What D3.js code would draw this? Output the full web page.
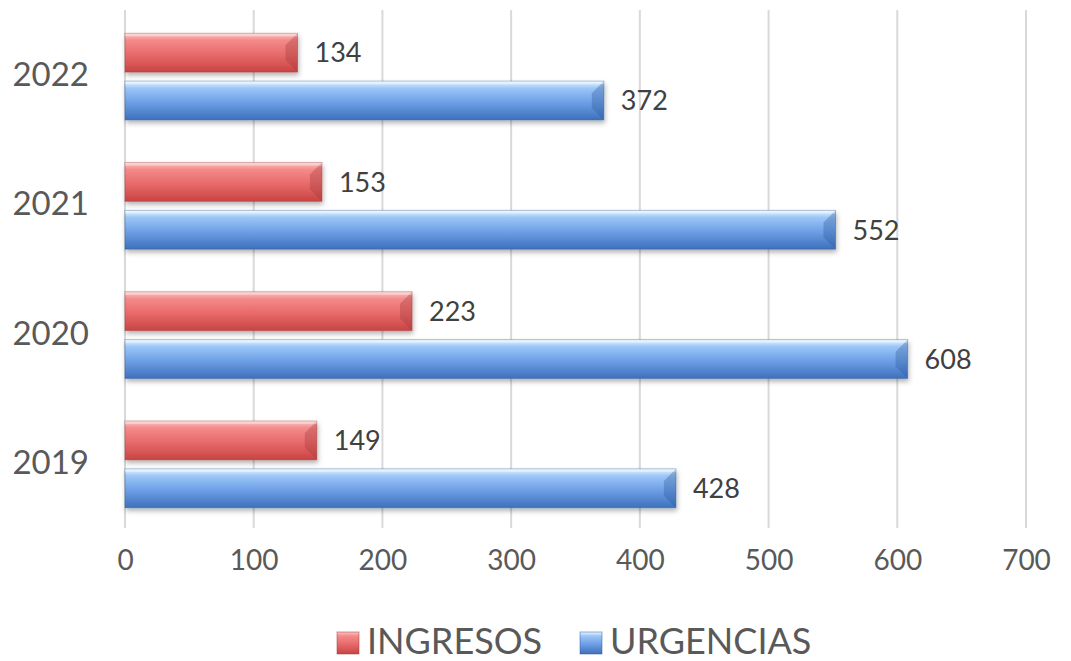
<!DOCTYPE html>
<html>
<head>
<meta charset="utf-8">
<script src="https://cdn.jsdelivr.net/npm/d3@7"></script>
<style>
  body { margin: 0; background: #fff; }
  svg { display: block; font-family: Lato, "Open Sans", sans-serif; }
</style>
</head>
<body>
<svg id="chart" width="1071" height="661"></svg>
<script>
// chart data
const years = ['2019', '2020', '2021', '2022'];
const seriesNames = ['INGRESOS', 'URGENCIAS'];
const ingresos = [149, 223, 153, 134];
const urgencias = [428, 608, 552, 372];
const xTicks = [0, 100, 200, 300, 400, 500, 600, 700];

const width = 1071, height = 661;
const margin = { top: 12, right: 45, bottom: 132, left: 125 };

const svg = d3.select('#chart');
const defs = svg.append('defs');

// bevel-ish gradients
const palettes = {
  INGRESOS: { stops: ['#fbc4c4', '#f48a8a', '#e86a6a', '#c84444'], dark: '#a33a3a' },
  URGENCIAS: { stops: ['#e6f8ff', '#9cc6f7', '#6d9fe6', '#3e70bc'], dark: '#2f5a9c' }
};
Object.entries(palettes).forEach(([name, p]) => {
  const g = defs.append('linearGradient')
    .attr('id', 'grad-' + name)
    .attr('x1', 0).attr('y1', 0).attr('x2', 0).attr('y2', 1);
  [0, 0.18, 0.55, 1].forEach((o, i) => {
    g.append('stop').attr('offset', o).attr('stop-color', p.stops[i]);
  });
});
const shadow = defs.append('filter').attr('id', 'shadow')
  .attr('x', '-5%').attr('y', '-20%').attr('width', '110%').attr('height', '160%');
shadow.append('feDropShadow')
  .attr('dx', 1).attr('dy', 3).attr('stdDeviation', 2.5)
  .attr('flood-color', '#000').attr('flood-opacity', 0.3);

const x = d3.scaleLinear()
  .domain([0, 700])
  .range([margin.left, width - margin.right]);

const y = d3.scaleBand()
  .domain(years.slice().reverse())
  .range([margin.top, height - margin.bottom])
  .paddingInner(0.33)
  .paddingOuter(0.165);

const y1 = d3.scaleBand()
  .domain(seriesNames)
  .range([0, y.bandwidth()])
  .paddingInner(0.19);

// grid lines
svg.append('g')
  .selectAll('line')
  .data(xTicks)
  .join('line')
  .attr('x1', d => x(d)).attr('x2', d => x(d))
  .attr('y1', 10).attr('y2', 528)
  .attr('stroke', '#d9d9d9')
  .attr('stroke-width', 2);

// x axis tick labels
const xAxis = d3.axisBottom(x).tickValues(xTicks).tickSize(0).tickPadding(0);
const gx = svg.append('g')
  .attr('transform', `translate(0, 550)`)
  .call(xAxis);
gx.select('.domain').remove();
gx.selectAll('text')
  .attr('font-size', 28)
  .attr('fill', '#595959')
  .attr('font-family', 'Lato, sans-serif');

// y axis labels
const yAxis = d3.axisLeft(y).tickSize(0).tickPadding(0);
const gy = svg.append('g')
  .attr('transform', `translate(89, -1)`)
  .call(yAxis);
gy.select('.domain').remove();
gy.selectAll('text')
  .attr('font-size', 33)
  .attr('fill', '#595959')
  .attr('font-family', 'Lato, sans-serif');

// bars
const rows = years.map((yr, i) => ({
  year: yr,
  values: [
    { key: 'INGRESOS', value: ingresos[i] },
    { key: 'URGENCIAS', value: urgencias[i] }
  ]
}));

const groups = svg.append('g')
  .selectAll('g')
  .data(rows)
  .join('g')
  .attr('transform', d => `translate(0, ${y(d.year)})`);

const bar = groups.selectAll('g.bar')
  .data(d => d.values)
  .join('g')
  .attr('class', 'bar');

bar.append('rect')
  .attr('x', x(0))
  .attr('y', d => y1(d.key))
  .attr('width', d => x(d.value) - x(0))
  .attr('height', y1.bandwidth())
  .attr('fill', d => `url(#grad-${d.key})`)
  .attr('stroke', d => palettes[d.key].dark)
  .attr('stroke-opacity', 0.45)
  .attr('filter', 'url(#shadow)');

// bevel corners at the right end
const bevel = 12;
bar.append('path')
  .attr('d', d => {
    const x1 = x(d.value), yt = y1(d.key), yb = yt + y1.bandwidth();
    return `M${x1},${yt} L${x1 - bevel},${yt + bevel} L${x1 - bevel},${yb - bevel} L${x1},${yb} Z`;
  })
  .attr('fill', d => palettes[d.key].dark)
  .attr('opacity', 0.35);
bar.append('rect')
  .attr('x', x(0))
  .attr('y', d => y1(d.key))
  .attr('width', d => x(d.value) - x(0))
  .attr('height', 3)
  .attr('fill', '#fff')
  .attr('opacity', 0.35);

// data labels
bar.append('text')
  .attr('x', d => x(d.value) + 17)
  .attr('y', d => y1(d.key) + y1.bandwidth() / 2)
  .attr('dy', '0.36em')
  .attr('font-size', 27)
  .attr('fill', '#404040')
  .text(d => d.value);

// legend
const legendItems = [
  { key: 'INGRESOS', x: 337 },
  { key: 'URGENCIAS', x: 580 }
];
const legend = svg.append('g').attr('transform', 'translate(0, 641)');
const li = legend.selectAll('g')
  .data(legendItems)
  .join('g')
  .attr('transform', d => `translate(${d.x}, 0)`);
li.append('rect')
  .attr('x', 0).attr('y', -9)
  .attr('width', 22).attr('height', 22)
  .attr('fill', d => `url(#grad-${d.key})`)
  .attr('stroke', d => palettes[d.key].dark)
  .attr('stroke-opacity', 0.5);
li.append('text')
  .attr('x', 30)
  .attr('dy', '0.36em')
  .attr('font-size', 36)
  .attr('fill', '#595959')
  .text(d => d.key);
</script>
</body>
</html>
